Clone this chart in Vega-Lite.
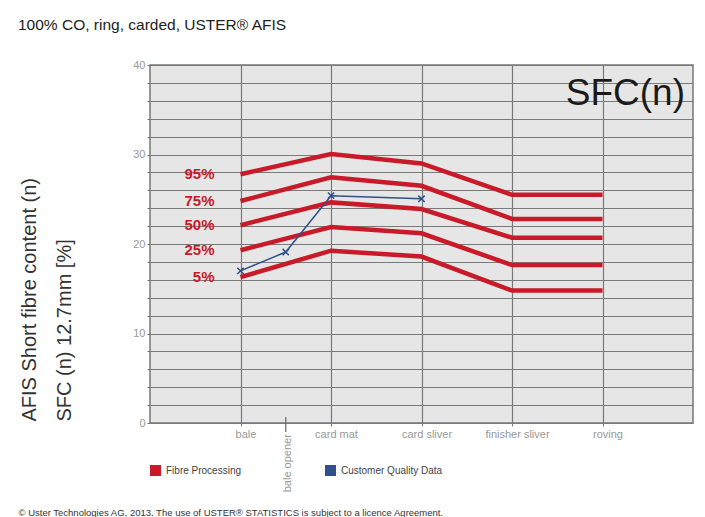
{
  "$schema": "https://vega.github.io/schema/vega-lite/v6.json",
  "width": 543,
  "height": 358,
  "autosize": {"type": "none"},
  "padding": {"left": 150, "top": 65, "right": 12, "bottom": 94},
  "background": "white",
  "title": {
    "text": "100% CO, ring, carded, USTER® AFIS",
    "anchor": "start",
    "frame": "group",
    "dx": -132,
    "offset": 14,
    "baseline": "alphabetic",
    "fontSize": 15.5,
    "font": "Liberation Sans",
    "fontWeight": "normal",
    "color": "#222"
  },
  "datasets": {
    "proc": [
      {"stage": "bale", "pos": 1, "pct": "95%", "value": 27.8, "series": "Fibre Processing"},
      {"stage": "card mat", "pos": 2, "pct": "95%", "value": 30.05, "series": "Fibre Processing"},
      {"stage": "card sliver", "pos": 3, "pct": "95%", "value": 29.0, "series": "Fibre Processing"},
      {"stage": "finisher sliver", "pos": 4, "pct": "95%", "value": 25.5, "series": "Fibre Processing"},
      {"stage": "roving", "pos": 5, "pct": "95%", "value": 25.5, "series": "Fibre Processing"},
      {"stage": "bale", "pos": 1, "pct": "75%", "value": 24.8, "series": "Fibre Processing"},
      {"stage": "card mat", "pos": 2, "pct": "75%", "value": 27.45, "series": "Fibre Processing"},
      {"stage": "card sliver", "pos": 3, "pct": "75%", "value": 26.5, "series": "Fibre Processing"},
      {"stage": "finisher sliver", "pos": 4, "pct": "75%", "value": 22.8, "series": "Fibre Processing"},
      {"stage": "roving", "pos": 5, "pct": "75%", "value": 22.8, "series": "Fibre Processing"},
      {"stage": "bale", "pos": 1, "pct": "50%", "value": 22.1, "series": "Fibre Processing"},
      {"stage": "card mat", "pos": 2, "pct": "50%", "value": 24.65, "series": "Fibre Processing"},
      {"stage": "card sliver", "pos": 3, "pct": "50%", "value": 23.9, "series": "Fibre Processing"},
      {"stage": "finisher sliver", "pos": 4, "pct": "50%", "value": 20.7, "series": "Fibre Processing"},
      {"stage": "roving", "pos": 5, "pct": "50%", "value": 20.7, "series": "Fibre Processing"},
      {"stage": "bale", "pos": 1, "pct": "25%", "value": 19.3, "series": "Fibre Processing"},
      {"stage": "card mat", "pos": 2, "pct": "25%", "value": 21.9, "series": "Fibre Processing"},
      {"stage": "card sliver", "pos": 3, "pct": "25%", "value": 21.2, "series": "Fibre Processing"},
      {"stage": "finisher sliver", "pos": 4, "pct": "25%", "value": 17.65, "series": "Fibre Processing"},
      {"stage": "roving", "pos": 5, "pct": "25%", "value": 17.65, "series": "Fibre Processing"},
      {"stage": "bale", "pos": 1, "pct": "5%", "value": 16.3, "series": "Fibre Processing"},
      {"stage": "card mat", "pos": 2, "pct": "5%", "value": 19.25, "series": "Fibre Processing"},
      {"stage": "card sliver", "pos": 3, "pct": "5%", "value": 18.6, "series": "Fibre Processing"},
      {"stage": "finisher sliver", "pos": 4, "pct": "5%", "value": 14.8, "series": "Fibre Processing"},
      {"stage": "roving", "pos": 5, "pct": "5%", "value": 14.8, "series": "Fibre Processing"}
    ],
    "cust": [
      {"stage": "bale", "pos": 1, "value": 17.0, "series": "Customer Quality Data"},
      {"stage": "bale opener", "pos": 1.5, "value": 19.1, "series": "Customer Quality Data"},
      {"stage": "card mat", "pos": 2, "value": 25.4, "series": "Customer Quality Data"},
      {"stage": "card sliver", "pos": 3, "value": 25.05, "series": "Customer Quality Data"}
    ],
    "one": [{}]
  },
  "layer": [
    {
      "data": {"name": "proc"},
      "mark": {"type": "line", "strokeWidth": 4.5, "strokeJoin": "miter"},
      "encoding": {
        "x": {
          "field": "pos", "type": "quantitative",
          "scale": {"domain": [0, 6], "nice": false, "zero": false},
          "axis": {
            "values": [1, 2, 3, 4, 5],
            "tickCount": 100,
            "labelExpr": "['','bale','card mat','card sliver','finisher sliver','roving'][datum.value]",
            "title": "© Uster Technologies AG, 2013. The use of USTER® STATISTICS is subject to a licence Agreement.",
            "titleX": -132,
            "titleY": 89,
            "titleAlign": "left",
            "titleAnchor": null,
            "titleBaseline": "middle",
            "titleFontSize": 9.5,
            "titleFontWeight": "normal",
            "titleColor": "#333",
            "titleFont": "Liberation Sans",
            "labelOffset": 5
          }
        },
        "y": {
          "field": "value", "type": "quantitative",
          "scale": {"domain": [0, 40], "nice": false, "zero": false},
          "axis": {
            "values": [0, 2, 4, 6, 8, 10, 12, 14, 16, 18, 20, 22, 24, 26, 28, 30, 32, 34, 36, 38, 40],
            "tickCount": 100,
            "format": "d",
            "labelExpr": "datum.value % 10 === 0 ? datum.label : ''",
            "title": ["AFIS Short fibre content (n)", "SFC (n) 12.7mm [%]"],
            "titleX": -131,
            "titleY": 356,
            "titleAngle": 270,
            "titleAlign": "left",
            "titleAnchor": null,
            "titleBaseline": "top",
            "titleLineHeight": 35,
            "titleFontSize": 20,
            "titleFontWeight": "normal",
            "titleColor": "#333",
            "titleFont": "Liberation Sans"
          }
        },
        "detail": {"field": "pct"},
        "color": {
          "field": "series", "type": "nominal",
          "scale": {"domain": ["Fibre Processing", "Customer Quality Data"], "range": ["#c81a28", "#30508c"]},
          "legend": {
            "title": null,
            "orient": "none",
            "legendX": 0,
            "legendY": 400,
            "direction": "horizontal",
            "columns": 2,
            "columnPadding": 83,
            "padding": 0,
            "symbolType": "square",
            "symbolSize": 121,
            "symbolStrokeWidth": 0,
            "labelOffset": 5,
            "labelFontSize": 10,
            "labelFont": "Liberation Sans",
            "labelColor": "#444",
            "encode": {
              "symbols": {"update": {"fill": {"scale": "color", "field": "value"}, "strokeWidth": {"value": 0}, "shape": {"value": "square"}, "size": {"value": 121}}}
            }
          }
        }
      }
    },
    {
      "data": {"name": "cust"},
      "mark": {"type": "line", "strokeWidth": 1.5},
      "encoding": {
        "x": {"field": "pos", "type": "quantitative", "scale": {"domain": [0, 6], "nice": false, "zero": false}},
        "y": {"field": "value", "type": "quantitative", "scale": {"domain": [0, 40], "nice": false, "zero": false}},
        "color": {"field": "series", "type": "nominal"}
      }
    },
    {
      "data": {"name": "cust"},
      "mark": {"type": "point", "shape": "M-1,-1L1,1M-1,1L1,-1", "size": 40, "filled": false, "stroke": "#30508c", "strokeWidth": 1.5, "opacity": 1},
      "encoding": {
        "x": {"field": "pos", "type": "quantitative", "scale": {"domain": [0, 6], "nice": false, "zero": false}},
        "y": {"field": "value", "type": "quantitative", "scale": {"domain": [0, 40], "nice": false, "zero": false}}
      }
    },
    {
      "data": {"name": "proc"},
      "transform": [{"filter": "datum.stage === 'bale'"}],
      "mark": {"type": "text", "align": "right", "baseline": "middle", "dx": -26, "fontSize": 15, "fontWeight": "bold", "font": "Liberation Sans", "color": "#c81a28"},
      "encoding": {
        "x": {"field": "pos", "type": "quantitative", "scale": {"domain": [0, 6], "nice": false, "zero": false}},
        "y": {"field": "value", "type": "quantitative", "scale": {"domain": [0, 40], "nice": false, "zero": false}},
        "text": {"field": "pct"}
      }
    },
    {
      "data": {"name": "one"},
      "mark": {"type": "text", "align": "right", "baseline": "alphabetic", "dx": -8, "fontSize": 37, "font": "Liberation Sans", "color": "#1a1a1a"},
      "encoding": {
        "x": {"datum": 6, "type": "quantitative"},
        "y": {"datum": 35.5, "type": "quantitative"},
        "text": {"value": "SFC(n)"}
      }
    },
    {
      "data": {"name": "one"},
      "mark": {"type": "rule", "color": "#666", "strokeWidth": 1.2},
      "encoding": {
        "x": {"datum": 1.5, "type": "quantitative"},
        "y": {"datum": 0.65, "type": "quantitative"},
        "y2": {"datum": -1.0}
      }
    },
    {
      "data": {"name": "one"},
      "mark": {"type": "text", "angle": 270, "align": "right", "baseline": "middle", "dy": 2, "fontSize": 11, "font": "Liberation Sans", "color": "#999"},
      "encoding": {
        "x": {"datum": 1.5, "type": "quantitative"},
        "y": {"datum": -1.25, "type": "quantitative"},
        "text": {"value": "bale opener"}
      }
    }
  ],
  "config": {
    "font": "Liberation Sans",
    "view": {"stroke": "#777", "strokeWidth": 1.5, "fill": "#e6e6e6"},
    "axis": {
      "domain": false,
      "grid": true,
      "gridColor": "#7a7a7a",
      "gridWidth": 1.2,
      "gridOpacity": 1,
      "ticks": true,
      "tickSize": 3,
      "tickColor": "#777",
      "labelColor": "#999",
      "labelFontSize": 11,
      "labelFont": "Liberation Sans",
      "labelPadding": 2
    }
  }
}
